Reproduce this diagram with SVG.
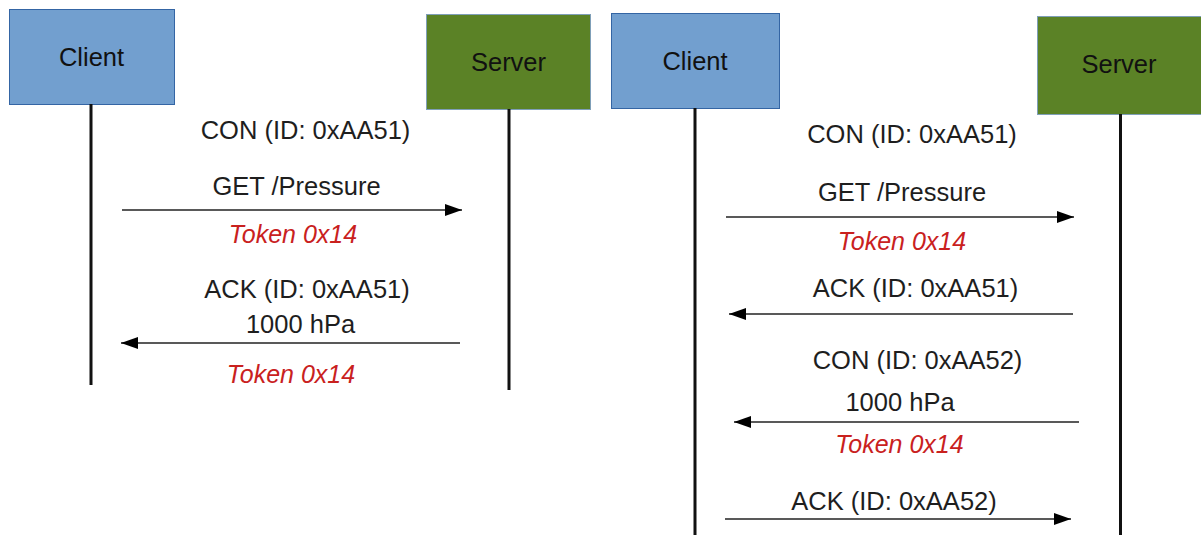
<svg xmlns="http://www.w3.org/2000/svg" width="1201" height="535" viewBox="0 0 1201 535">
  <style>
    .client { fill: #729fcf; stroke: #3465a4; stroke-width: 1; }
    .server { fill: #5b8226; stroke: #7f9fb8; stroke-width: 1; }
    .life { stroke: #111; stroke-width: 3; fill: none; }
    .msg { stroke: #222; stroke-width: 1.3; fill: none; }
    .label { font-family: "Liberation Sans", Arial, sans-serif; font-size: 25.5px; fill: #1e1e1e; text-anchor: middle; }
    .box-label { font-family: "Liberation Sans", Arial, sans-serif; font-size: 25.5px; fill: #111; text-anchor: middle; }
    .token { font-family: "Liberation Sans", Arial, sans-serif; font-size: 25px; font-style: italic; fill: #c9211e; text-anchor: middle; }
  </style>
  <defs>
    <marker id="arrow" markerUnits="userSpaceOnUse" markerWidth="18" markerHeight="14" refX="17" refY="6.5" orient="auto">
      <path d="M0,0.5 L17,6.5 L0,12.5 Z" fill="#000"/>
    </marker>
  </defs>
  <rect width="1201" height="535" fill="#fff"/>

  <!-- piggybacked response -->
  <g id="client-a">
    <rect class="client" x="9.5" y="9.5" width="165" height="95"/>
    <text class="box-label" x="91.5" y="66">Client</text>
  </g>
  <g id="server-a">
    <rect class="server" x="426.5" y="14.5" width="164" height="95"/>
    <text class="box-label" x="508.5" y="71">Server</text>
  </g>

  <!-- separate response -->
  <g id="client-b">
    <rect class="client" x="611.5" y="13.5" width="168" height="95"/>
    <text class="box-label" x="695" y="70">Client</text>
  </g>
  <g id="server-b">
    <rect class="server" x="1037.5" y="16.5" width="170" height="98"/>
    <text class="box-label" x="1119" y="73">Server</text>
  </g>

  <g id="connectors">
    <line class="life" x1="91" y1="104" x2="91" y2="385"/>
    <line class="life" x1="509" y1="109" x2="509" y2="390"/>
    <line class="life" x1="695" y1="108" x2="695" y2="535"/>
    <line class="life" x1="1120.5" y1="114" x2="1120.5" y2="535"/>

    <line class="msg" x1="122" y1="210" x2="462" y2="210" marker-end="url(#arrow)"/>
    <line class="msg" x1="460" y1="343" x2="121" y2="343" marker-end="url(#arrow)"/>

    <line class="msg" x1="726" y1="217" x2="1074" y2="217" marker-end="url(#arrow)"/>
    <line class="msg" x1="1073" y1="314" x2="729" y2="314" marker-end="url(#arrow)"/>
    <line class="msg" x1="1079" y1="422" x2="734" y2="422" marker-end="url(#arrow)"/>
    <line class="msg" x1="725" y1="519" x2="1071" y2="519" marker-end="url(#arrow)"/>
  </g>

  <g id="labels-a">
    <text class="label" x="305.5" y="139">CON (ID: 0xAA51)</text>
    <text class="label" x="296.5" y="195">GET /Pressure</text>
    <text class="token" x="293" y="243">Token 0x14</text>
    <text class="label" x="307" y="298">ACK (ID: 0xAA51)</text>
    <text class="label" x="300.5" y="333">1000 hPa</text>
    <text class="token" x="291" y="383">Token 0x14</text>
  </g>

  <g id="labels-b">
    <text class="label" x="912" y="143">CON (ID: 0xAA51)</text>
    <text class="label" x="902" y="201">GET /Pressure</text>
    <text class="token" x="902" y="250">Token 0x14</text>
    <text class="label" x="915.5" y="297">ACK (ID: 0xAA51)</text>
    <text class="label" x="917.5" y="369">CON (ID: 0xAA52)</text>
    <text class="label" x="900" y="411">1000 hPa</text>
    <text class="token" x="899.5" y="453">Token 0x14</text>
    <text class="label" x="894" y="510">ACK (ID: 0xAA52)</text>
  </g>
</svg>
